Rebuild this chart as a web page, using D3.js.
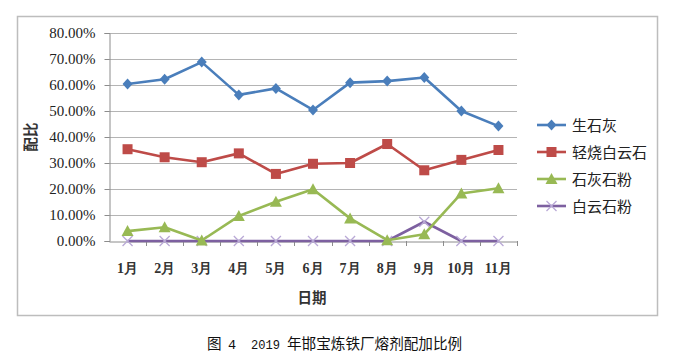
<!DOCTYPE html>
<html><head><meta charset="utf-8">
<script src="https://cdn.jsdelivr.net/npm/d3@7"></script>
<style>body{margin:0;background:#fff;}svg{display:block;}</style>
</head><body>
<script>
const months = ["1月","2月","3月","4月","5月","6月","7月","8月","9月","10月","11月"];
const shengShiHui = [60.4,62.2,68.8,56.2,58.7,50.4,60.9,61.5,62.9,50.0,44.2];
const qingShaoBaiYunShi = [35.3,32.2,30.3,33.7,25.8,29.7,30.0,37.3,27.2,31.2,35.0];
const shiHuiShiFen = [3.8,5.3,0.2,9.6,15.1,19.9,8.7,0.3,2.6,18.3,20.3];
const baiYunShiFen = [0,0,0,0,0,0,0,0,7.4,0,0];
const seriesNames = ["生石灰","轻烧白云石","石灰石粉","白云石粉"];
const yTicks = [0,10,20,30,40,50,60,70,80];

const W=675,H=357;
const svg=d3.select("body").append("svg").attr("width",W).attr("height",H);
const cjk='"Noto Sans CJK SC", sans-serif';
const serif='"Liberation Serif","DejaVu Serif",serif';
const mono='"Liberation Mono","DejaVu Sans Mono",monospace';

// frame
svg.append("rect").attr("x",17.5).attr("y",16.5).attr("width",640).attr("height",299)
  .attr("fill","#fff").attr("stroke","#bdbdbd").attr("stroke-width",1.5);

const x=d3.scaleBand().domain(months).range([109,517]);
const y=d3.scaleLinear().domain([0,80]).range([241,33]);

// gridlines
svg.append("g").selectAll("line").data(yTicks.slice(1)).join("line")
  .attr("x1",109).attr("x2",517).attr("y1",d=>Math.round(y(d))+0.5).attr("y2",d=>Math.round(y(d))+0.5)
  .attr("stroke","#b4b4b4").attr("stroke-width",1);

// y axis
const ya=svg.append("g").attr("transform","translate(109.5,0)")
  .call(d3.axisLeft(y).tickValues(yTicks).tickSize(5).tickPadding(9).tickFormat(d=>d.toFixed(2)+"%"));
ya.select(".domain").attr("stroke","#8c8c8c");
ya.selectAll(".tick line").attr("stroke","#8c8c8c");
ya.selectAll("text").attr("font-family",serif).attr("font-size",15).attr("fill","#222");

// x axis
const xa=svg.append("g").attr("transform","translate(0,"+(Math.round(y(0))+0.5)+")")
  .call(d3.axisBottom(x).tickSize(0).tickPadding(22));
xa.select(".domain").attr("stroke","#8c8c8c");
xa.selectAll("text").attr("font-family",serif).attr("font-size",14).attr("font-weight","bold").attr("fill","#333");
svg.append("g").selectAll("line").data(months).join("line")
  .attr("x1",(d,i)=>Math.round(x.range()[0]+x.step()*(i+1))+0.5)
  .attr("x2",(d,i)=>Math.round(x.range()[0]+x.step()*(i+1))+0.5)
  .attr("y1",y(0)).attr("y2",y(0)+5).attr("stroke","#8c8c8c");

// axis titles
svg.append("text").attr("x",312).attr("y",303).attr("text-anchor","middle")
  .attr("font-family",cjk).attr("font-size",14.5).attr("font-weight","bold").attr("fill","#333").text("日期");
svg.append("text").attr("transform","translate(36,137) rotate(-90)").attr("text-anchor","middle")
  .attr("font-family",cjk).attr("font-size",14.5).attr("font-weight","bold").attr("fill","#333").text("配比");

const colors=["#4a7ebb","#be4b48","#98b954","#7d60a0"];
const data=[shengShiHui,qingShaoBaiYunShi,shiHuiShiFen,baiYunShiFen];
const cx=i=>x(months[i])+x.bandwidth()/2;

function marker(g,type,px,py,color){
  if(type===0){
    g.append("path").attr("d",`M${px},${py-5.5}L${px+5},${py}L${px},${py+5.5}L${px-5},${py}Z`).attr("fill",color);
  } else if(type===1){
    g.append("rect").attr("x",px-5).attr("y",py-5).attr("width",10).attr("height",10).attr("fill",color);
  } else if(type===2){
    g.append("path").attr("d",`M${px},${py-6}L${px+6},${py+5}L${px-6},${py+5}Z`).attr("fill",color);
  } else {
    g.append("path").attr("d",`M${px-5},${py-5}L${px+5},${py+5}M${px+5},${py-5}L${px-5},${py+5}`)
      .attr("stroke","#b9a9d6").attr("stroke-width",1.3).attr("fill","none");
  }
}

const line=d3.line().x((d,i)=>cx(i)).y(d=>y(d));
[3,2,1,0].forEach(k=>{
  const g=svg.append("g");
  g.append("path").datum(data[k]).attr("d",line).attr("fill","none")
    .attr("stroke",colors[k]).attr("stroke-width",2.6).attr("stroke-linejoin","round");
  data[k].forEach((v,i)=>marker(g,k,cx(i),y(v),colors[k]));
});

// legend
const lg=svg.append("g");
seriesNames.forEach((n,k)=>{
  const ly=125+k*27;
  lg.append("line").attr("x1",537).attr("x2",566).attr("y1",ly).attr("y2",ly)
    .attr("stroke",colors[k]).attr("stroke-width",2.6);
  marker(lg,k,551.5,ly,colors[k]);
  lg.append("text").attr("x",572).attr("y",ly+5.5).attr("font-family",cjk).attr("font-size",15)
    .attr("fill","#222").text(n);
});

// caption
const cap=svg.append("text").attr("y",349).attr("fill","#111");
cap.append("tspan").attr("x",207).attr("font-family",cjk).attr("font-size",14.6).text("图");
cap.append("tspan").attr("x",228).attr("font-family",mono).attr("font-size",13.5).text("4");
cap.append("tspan").attr("x",251).attr("font-family",mono).attr("font-size",13.5)
  .attr("textLength",29).attr("lengthAdjust","spacingAndGlyphs").text("2019");
cap.append("tspan").attr("x",287).attr("font-family",cjk).attr("font-size",14.6).text("年邯宝炼铁厂熔剂配加比例");
</script>
</body></html>
